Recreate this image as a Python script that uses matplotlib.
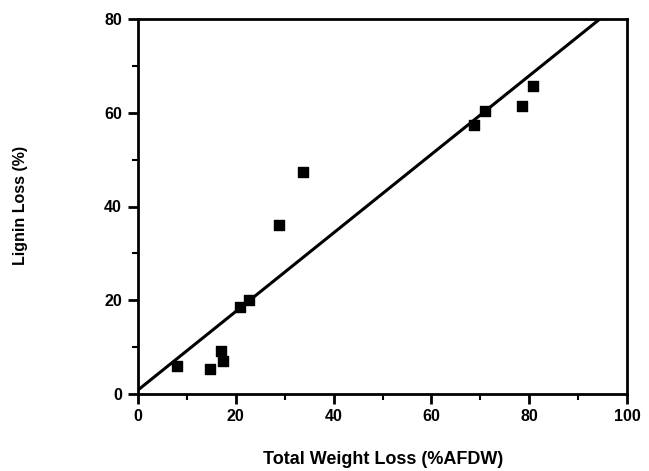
import matplotlib
matplotlib.use("Agg")
import matplotlib.pyplot as plt
import numpy as np

total_weight_loss = [8.0, 14.7, 16.9, 17.3, 20.8, 22.7, 28.8, 33.7, 68.7, 71.0, 78.6, 80.7]
lignin_loss = [6.0, 5.4, 9.1, 7.0, 18.5, 20.0, 36.0, 47.4, 57.3, 60.4, 61.5, 65.7]
fit_intercept = 0.85
fit_slope = 0.838
x_ticks = [0, 20, 40, 60, 80, 100]
y_ticks = [0, 20, 40, 60, 80]

plt.rcParams['font.family'] = ['Liberation Sans', 'DejaVu Sans']
plt.rcParams['font.weight'] = 'bold'

fig = plt.figure(figsize=(6.49, 4.71), dpi=100)
ax = fig.add_axes([138 / 649, 1 - 394 / 471, (627 - 138) / 649, (394 - 19) / 471])

ax.scatter(total_weight_loss, lignin_loss, marker='s', s=45, color='black', zorder=3)
x_end = (80 - fit_intercept) / fit_slope
xs = np.array([0, x_end])
ax.plot(xs, fit_intercept + fit_slope * xs, color='black', lw=2.2)

ax.set_xlim(0, 100)
ax.set_ylim(0, 80)
ax.set_xticks(x_ticks)
ax.set_yticks(y_ticks)
ax.set_xticks(np.arange(10, 100, 20), minor=True)
ax.set_yticks(np.arange(10, 80, 20), minor=True)
ax.tick_params(which='major', direction='out', length=7, width=2, labelsize=11.5, pad=4)
ax.tick_params(axis='y', which='major', pad=4.5)
ax.tick_params(which='minor', direction='out', length=4, width=1.5)
for lab in ax.get_xticklabels() + ax.get_yticklabels():
    lab.set_fontweight('bold')
for sp in ax.spines.values():
    sp.set_linewidth(2)

fig.text(383 / 649, 1 - 459.5 / 471, 'Total Weight Loss (%AFDW)', ha='center', va='center',
         fontsize=13, fontweight='bold')
fig.text(21 / 649, 1 - 205 / 471, 'Lignin Loss (%)', ha='center', va='center',
         rotation=90, fontsize=11.5, fontweight='bold')

fig.savefig('out.png', dpi=100)
